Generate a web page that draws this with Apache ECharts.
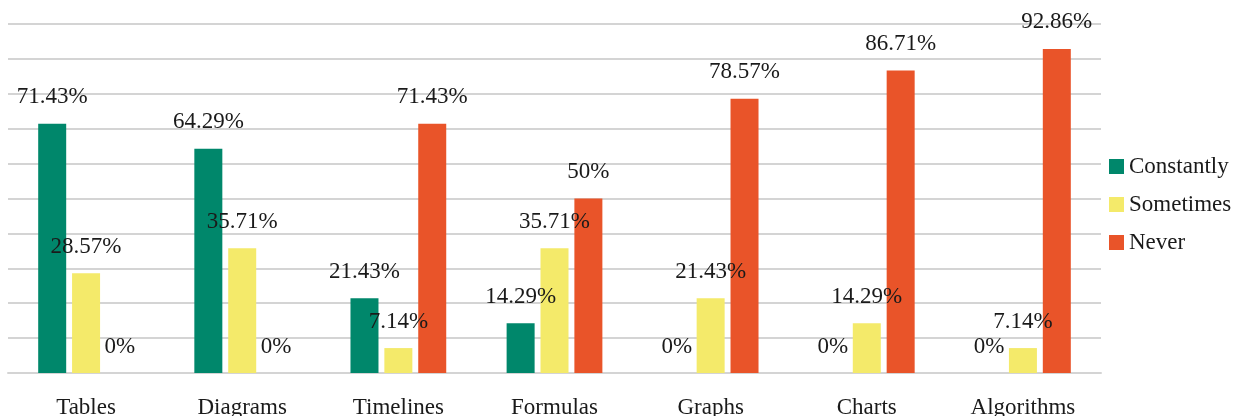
<!DOCTYPE html>
<html>
<head>
<meta charset="utf-8">
<script src="https://cdn.jsdelivr.net/npm/echarts@6/dist/echarts.min.js"></script>
<style>
html,body{margin:0;padding:0;background:#fff;}
#c{width:1236px;height:416px;}
</style>
</head>
<body>
<div id="c"></div>
<script>
var categories = ["Tables", "Diagrams", "Timelines", "Formulas", "Graphs", "Charts", "Algorithms"];
var constantly = [71.43, 64.29, 21.43, 14.29, 0, 0, 0];
var sometimes = [28.57, 35.71, 7.14, 35.71, 21.43, 14.29, 7.14];
var never = [0, 0, 71.43, 50, 78.57, 86.71, 92.86];
var seriesNames = ["Constantly", "Sometimes", "Never"];
var colors = ["#00876B", "#F4EA6A", "#E95429"];

var font = "Liberation Serif";
var chart = echarts.init(document.getElementById('c'), null, {renderer: 'canvas'});

function mk(name, data, color) {
  return {
    name: name,
    type: 'bar',
    data: data,
    barWidth: 28,
    barGap: '21%',
    itemStyle: {color: color},
    label: {
      show: true,
      position: 'top',
      distance: 15,
      formatter: '{c}%',
      fontFamily: font,
      fontSize: 23,
      color: '#1a1a1a'
    },
    emphasis: {disabled: true}
  };
}

chart.setOption({
  animation: false,
  backgroundColor: '#ffffff',
  color: colors,
  grid: {left: 8, right: 135, top: 24, bottom: 43, containLabel: false, outerBoundsMode: 'none'},
  legend: {
    orient: 'vertical',
    left: 1109,
    top: 155,
    padding: 0,
    itemWidth: 15,
    itemHeight: 15,
    itemGap: 15,
    icon: 'rect',
    data: seriesNames,
    textStyle: {fontFamily: font, fontSize: 23, color: '#1a1a1a'}
  },
  xAxis: {
    type: 'category',
    data: categories,
    axisLine: {show: true, lineStyle: {color: '#d4d4d4', width: 2}},
    axisTick: {show: false},
    axisLabel: {fontFamily: font, fontSize: 23, color: '#1a1a1a', margin: 23}
  },
  yAxis: {
    type: 'value',
    min: 0,
    max: 100,
    interval: 10,
    axisLine: {show: false},
    axisTick: {show: false},
    axisLabel: {show: false},
    splitLine: {show: true, lineStyle: {color: '#d4d4d4', width: 2}}
  },
  series: [
    mk(seriesNames[0], constantly, colors[0]),
    mk(seriesNames[1], sometimes, colors[1]),
    mk(seriesNames[2], never, colors[2])
  ]
});
</script>
</body>
</html>
